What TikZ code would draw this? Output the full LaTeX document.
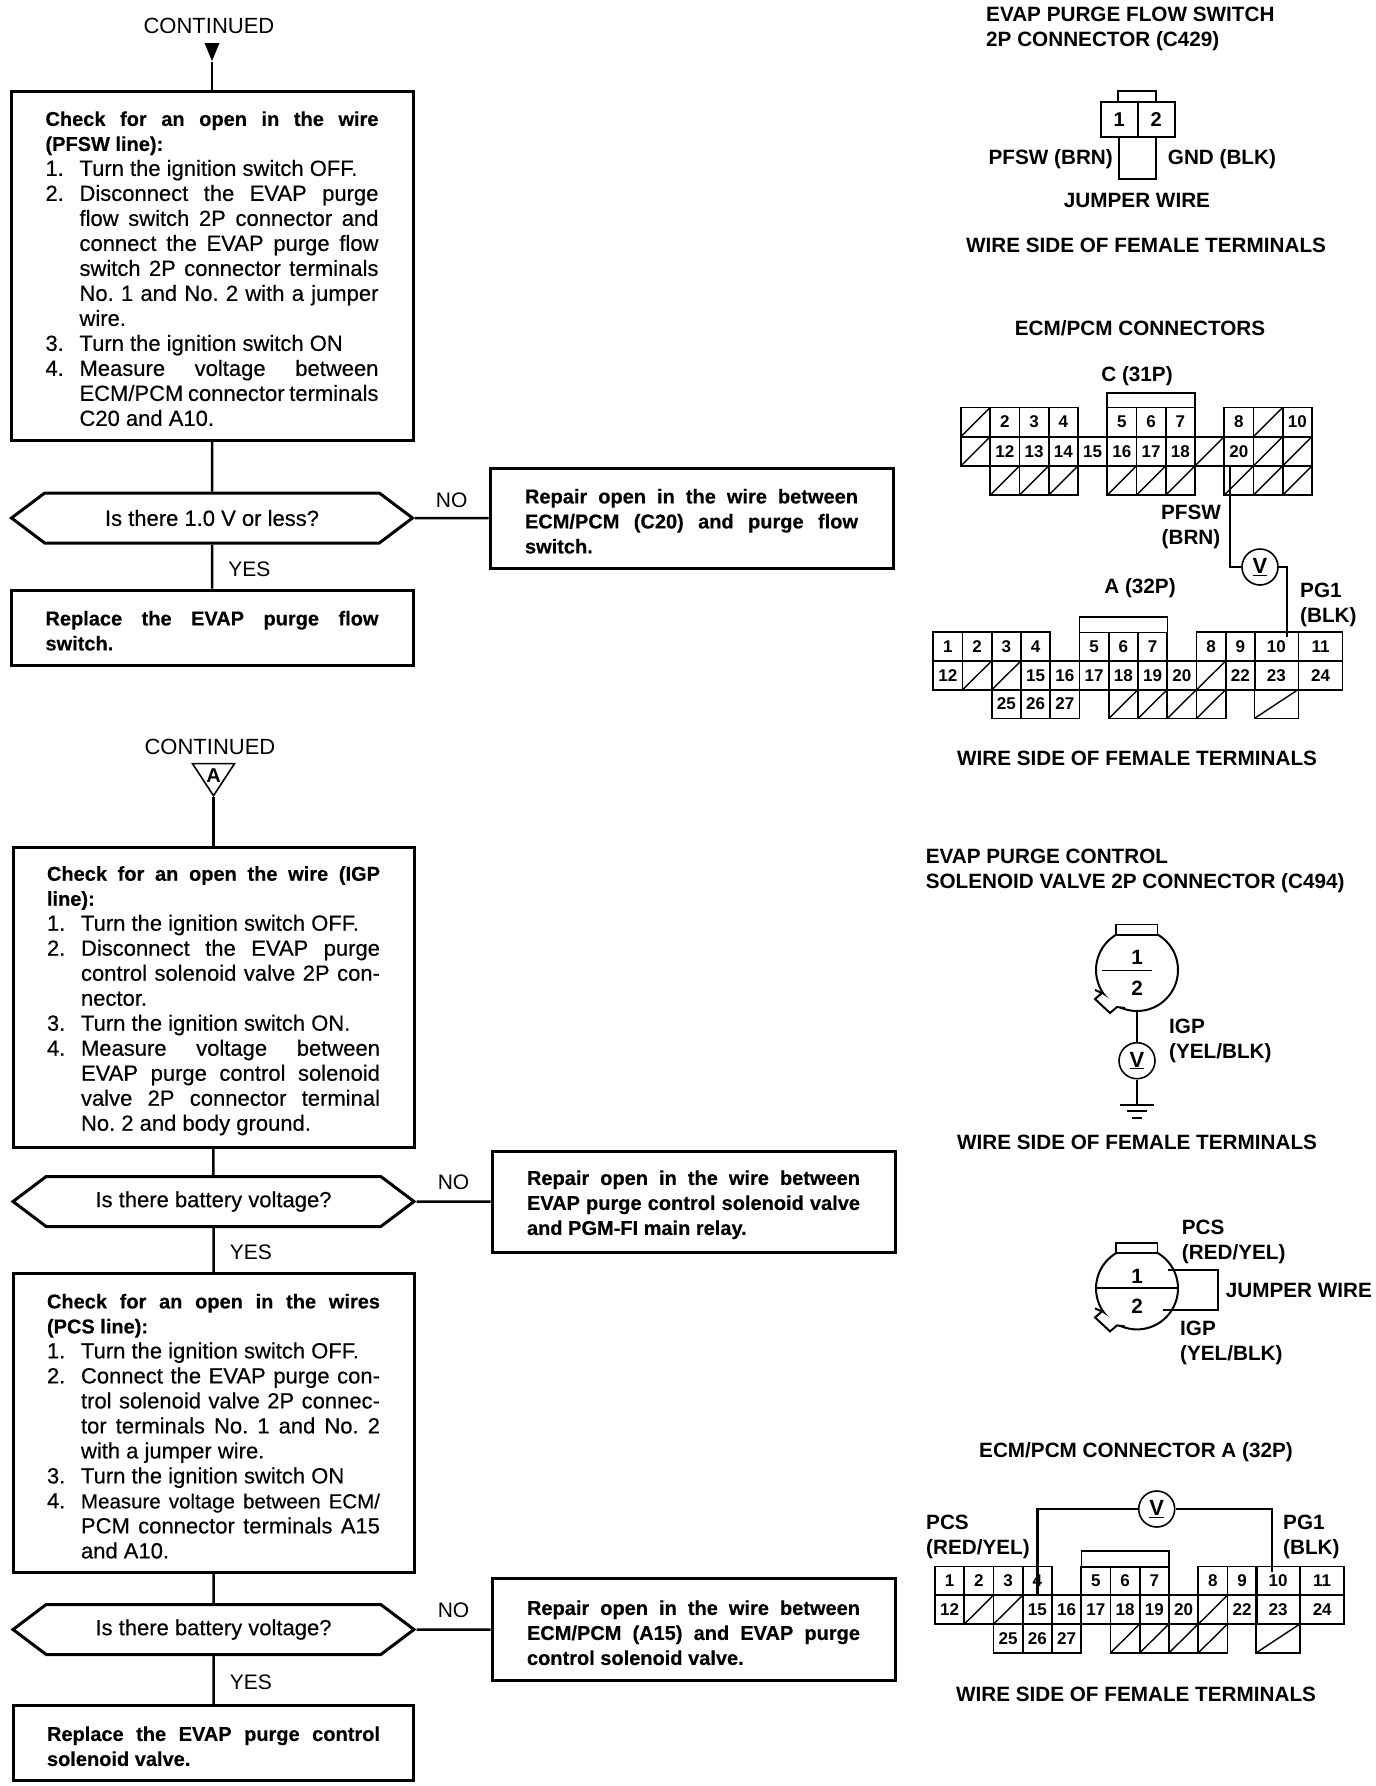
\documentclass[tikz,border=0pt]{standalone}
\usepackage{fontspec}
\setmainfont{Liberation Sans}
\newfontfamily\darkfam[FakeBold=0.4]{Liberation Sans}
\usetikzlibrary{positioning, shapes}
\newcommand{\stepfont}{\darkfam\fontsize{22}{25}\selectfont}
\newcommand{\headfont}{\bfseries\fontsize{20}{25}\selectfont}
\newcommand{\plainsp}{\spaceskip=0pt\xspaceskip=0pt\frenchspacing}
\newcommand{\headln}[1]{\makebox[333pt][s]{\plainsp\headfont #1}}
\newcommand{\headend}[1]{{\plainsp\headfont #1}}
\newcommand{\stepln}[2]{\makebox[34pt][l]{#1}\makebox[299pt][s]{\plainsp #2}}
\newcommand{\stepend}[2]{\makebox[34pt][l]{#1}{\plainsp #2}}
\tikzstyle{point}    = [coordinate]
\tikzstyle{plain}    = [inner sep=0pt, font=\fontsize{22}{25}\selectfont]
\tikzstyle{answer}   = [inner xsep=15pt, inner ysep=8pt, font=\fontsize{21}{25}\selectfont]
\tikzstyle{block}    = [draw, rectangle, line width=3pt, inner sep=0pt, text width=333pt, align=left, font=\stepfont, execute at begin node={\rule{0pt}{21pt}}]
\tikzstyle{highblock} = [block, execute at begin node={\rule{0pt}{17pt}}]
\tikzstyle{decision} = [draw, signal, signal to=west and east, signal pointer angle=74, line width=3pt, inner sep=0pt, minimum width=401pt, minimum height=50pt, font=\stepfont]
\tikzstyle{wire}     = [line width=2.5pt]
\tikzstyle{lbl}      = [inner sep=0pt, align=left, font=\bfseries\fontsize{20.7}{25}\selectfont]
\tikzstyle{cell}     = [draw, rectangle, line width=1.6pt, inner sep=0pt, minimum width=29.25pt, minimum height=29pt, font=\bfseries\fontsize{17}{18}\selectfont]
\tikzstyle{deadcell} = [cell, path picture={\draw [line width=1.4pt] (path picture bounding box.south west) -- (path picture bounding box.north east);}]
\tikzstyle{keybox}   = [draw, rectangle, fill=white, line width=1.6pt, inner sep=0pt]
\tikzstyle{meter}    = [draw, circle, fill=white, line width=1.6pt, inner sep=0pt, minimum size=36pt, font=\bfseries\fontsize{22}{25}\selectfont]
\tikzstyle{plug}     = [draw, circle, line width=2pt, inner sep=0pt, minimum size=82pt]
\newcommand{\notch}[1]{
	\draw [shift={(#1.center)}, line width=2pt, fill=white] (-42,20) -- (-35,23) -- (-42,29) -- (-27,43) -- (-20,37) -- (-12,38);
}
\newcommand{\connA}[1]{
	\foreach \t/\c/\r in {1/0/0,2/1/0,3/2/0,4/3/0,5/5/0,6/6/0,7/7/0,8/9/0,9/10/0,12/0/1,15/3/1,16/4/1,17/5/1,18/6/1,19/7/1,20/8/1,22/10/1,25/2/2,26/3/2,27/4/2}
		\node [cell] (#1\t) at ({947.9+\c*29.25},{646.6+\r*28.7}) {\t};
	\foreach \c/\r in {1/1,2/1,9/1,6/2,7/2,8/2,9/2}
		\node [deadcell] (#1x\c\r) at ({947.9+\c*29.25},{646.6+\r*28.7}) {};
	\foreach \t/\r in {10/0,23/1}
		\node [cell, minimum width=44pt] (#1\t) at ({1276.3},{646.6+\r*28.7}) {\t};
	\foreach \t/\r in {11/0,24/1}
		\node [cell, minimum width=44pt] (#1\t) at ({1320.5},{646.6+\r*28.7}) {\t};
	\node [deadcell, minimum width=44pt] (#1xw) at ({1276.3},{646.6+2*28.7}) {};
	\node [keybox, minimum width=87.75pt, minimum height=15.6pt] (#1key) at (1123.5,624.5) {};
}

\begin{document}
\begin{tikzpicture}[auto, x=1pt, y=-1pt, node distance=100pt]
	\useasboundingbox (0,0) rectangle (1376,1786);

	\node [plain] (cont1) at (209,26) {CONTINUED};
	\node [isosceles triangle, isosceles triangle apex angle=42, isosceles triangle stretches, shape border rotate=-90, fill, inner sep=0pt, minimum width=15pt, minimum height=18pt, below of=cont1, xshift=3pt, node distance=22pt] (tri1) {};
	\node [block, minimum width=402pt, minimum height=349pt, below of=tri1, node distance=217.5pt] (chk1) {
		\headln{Check for an open in the wire}\\
		\headend{(PFSW line):}\\
		\stepend{1.}{Turn the ignition switch OFF.}\\
		\stepln{2.}{Disconnect the EVAP purge}\\
		\stepln{}{flow switch 2P connector and}\\
		\stepln{}{connect the EVAP purge flow}\\
		\stepln{}{switch 2P connector terminals}\\
		\stepln{}{No. 1 and No. 2 with a jumper}\\
		\stepend{}{wire.}\\
		\stepend{3.}{Turn the ignition switch ON}\\
		\stepln{4.}{Measure voltage between}\\
		\stepln{}{ECM/PCM connector terminals}\\
		\stepend{}{C20 and A10.}};
	\node [decision, below of=chk1, node distance=252.5pt] (dec1) {Is there 1.0 V or less?};
	\node [block, minimum width=403pt, minimum height=100pt, right of=dec1, node distance=479.5pt] (rep1) {
		\headln{Repair open in the wire between}\\
		\headln{ECM/PCM (C20) and purge flow}\\
		\headend{switch.}};
	\node [block, minimum width=402pt, minimum height=75pt, below of=dec1, node distance=109.5pt] (fix1) {
		\headln{Replace the EVAP purge flow}\\
		\headend{switch.}};

	\node [plain] (cont2) at (210,747) {CONTINUED};
	\node [isosceles triangle, isosceles triangle apex angle=60, isosceles triangle stretches, shape border rotate=-90, draw, line width=1.6pt, inner sep=0pt, minimum width=42pt, minimum height=32pt, below of=cont2, xshift=3.5pt, node distance=28pt] (tri2) {};
	\node [plain, font=\bfseries\fontsize{20}{25}\selectfont, below of=tri2, node distance=1pt] (tria) {A};
	\node [block, minimum width=401pt, minimum height=300pt, below of=tri2, node distance=222.5pt] (chk2) {
		\headln{Check for an open the wire (IGP}\\
		\headend{line):}\\
		\stepend{1.}{Turn the ignition switch OFF.}\\
		\stepln{2.}{Disconnect the EVAP purge}\\
		\stepln{}{control solenoid valve 2P con-}\\
		\stepend{}{nector.}\\
		\stepend{3.}{Turn the ignition switch ON.}\\
		\stepln{4.}{Measure voltage between}\\
		\stepln{}{EVAP purge control solenoid}\\
		\stepln{}{valve 2P connector terminal}\\
		\stepend{}{No. 2 and body ground.}};
	\node [decision, below of=chk2, node distance=204pt] (dec2) {Is there battery voltage?};
	\node [block, minimum width=403pt, minimum height=101pt, right of=dec2, node distance=480pt] (rep2) {
		\headln{Repair open in the wire between}\\
		\headln{EVAP purge control solenoid valve}\\
		\headend{and PGM-FI main relay.}};
	\node [block, minimum width=401pt, minimum height=299pt, below of=dec2, node distance=221.5pt] (chk3) {
		\headln{Check for an open in the wires}\\
		\headend{(PCS line):}\\
		\stepend{1.}{Turn the ignition switch OFF.}\\
		\stepln{2.}{Connect the EVAP purge con-}\\
		\stepln{}{trol solenoid valve 2P connec-}\\
		\stepln{}{tor terminals No. 1 and No. 2}\\
		\stepend{}{with a jumper wire.}\\
		\stepend{3.}{Turn the ignition switch ON}\\
		\stepln{4.}{\fontsize{20.5}{25}\selectfont Measure voltage between ECM/}\\
		\stepln{}{PCM connector terminals A15}\\
		\stepend{}{and A10.}};
	\node [decision, below of=chk3, node distance=206.5pt] (dec3) {Is there battery voltage?};
	\node [highblock, minimum width=403pt, minimum height=102pt, right of=dec3, node distance=480pt] (rep3) {
		\headln{Repair open in the wire between}\\
		\headln{ECM/PCM (A15) and EVAP purge}\\
		\headend{control solenoid valve.}};
	\node [highblock, minimum width=400pt, minimum height=75pt, below of=dec3, node distance=113.5pt] (fix2) {
		\headln{Replace the EVAP purge control}\\
		\headend{solenoid valve.}};

	\draw [wire] (tri1.apex) -- (chk1);
	\draw [wire] (chk1) -- (dec1);
	\draw [wire] (dec1) -- node [answer, yshift=1pt] {NO} (rep1);
	\draw [wire] (dec1) -- node [answer, yshift=-3pt] {YES} (fix1);
	\draw [wire] (tri2.apex) -- (chk2);
	\draw [wire] (chk2) -- (dec2);
	\draw [wire] (dec2) -- node [answer, yshift=3pt] {NO} (rep2);
	\draw [wire] (dec2) -- node [answer, yshift=-2pt] {YES} (chk3);
	\draw [wire] (chk3) -- (dec3);
	\draw [wire] (dec3) -- node [answer, yshift=3pt] {NO} (rep3);
	\draw [wire] (dec3) -- node [answer, yshift=-2pt] {YES} (fix2);

	\node [lbl, anchor=west] (ttl1) at (986,29) {EVAP PURGE FLOW SWITCH\\2P CONNECTOR (C429)};
	\node [keybox, minimum width=38.3pt, minimum height=10.6pt] (swkey) at (1136.9,96.4) {};
	\node [cell, minimum width=37pt, minimum height=35pt, line width=2pt, font=\bfseries\fontsize{20}{25}\selectfont] (sw1) at (1119.2,119.2) {1};
	\node [cell, minimum width=37pt, minimum height=35pt, line width=2pt, font=\bfseries\fontsize{20}{25}\selectfont] (sw2) at (1156.2,119.2) {2};
	\node [lbl, anchor=east] (pfsw1) at (1113,159) {PFSW (BRN)};
	\node [lbl, anchor=west] (gnd1) at (1167.7,159) {GND (BLK)};
	\node [lbl] (jmp1) at (1137,200) {JUMPER WIRE};
	\node [lbl] (side1) at (1146,245) {WIRE SIDE OF FEMALE TERMINALS};
	\draw [line width=2pt] (sw1.south) -- ++(0,41) -| (sw2.south);

	\node [lbl] (ttl2) at (1140,328) {ECM/PCM CONNECTORS};
	\node [lbl] (ttlc) at (1137,376) {C (31P)};
	\foreach \t/\c/\r in {2/1/0,3/2/0,4/3/0,5/5/0,6/6/0,7/7/0,8/9/0,10/11/0,12/1/1,13/2/1,14/3/1,15/4/1,16/5/1,17/6/1,18/7/1,20/9/1}
		\node [cell] (c\t) at ({975.6+\c*29.25},{422+\r*29.25}) {\t};
	\foreach \c/\r in {0/0,10/0,0/1,8/1,10/1,11/1,1/2,2/2,3/2,5/2,6/2,7/2,9/2,10/2,11/2}
		\node [deadcell] (cx\c\r) at ({975.6+\c*29.25},{422+\r*29.25}) {};
	\node [keybox, minimum width=87.75pt, minimum height=14.6pt] (ckey) at (1151,400) {};
	\node [lbl, align=center] (pfsw2) at (1191,526.5) {PFSW\\(BRN)};
	\node [meter] (vm1) at (1260,567) {\underline{V}};
	\node [lbl] (pg1) at (1300,605) [anchor=west] {PG1\\(BLK)};
	\node [lbl] (ttla) at (1140,588) {A (32P)};
	\connA{a}
	\node [lbl] (side2) at (1137,758) {WIRE SIDE OF FEMALE TERMINALS};
	\draw [wire] ([xshift=-9pt]c20.south) |- (vm1);
	\draw [wire] (vm1) -| ([xshift=10.7pt,yshift=-6pt]a10.north);

	\node [lbl, anchor=west] (ttl3) at (925.6,871) {EVAP PURGE CONTROL\\SOLENOID VALVE 2P CONNECTOR (C494)};
	\node [plug] (rnd1) at (1137,970) {};
	\notch{rnd1}
	\node [keybox, minimum width=41.6pt, minimum height=10.4pt] (rkey1) at (1136.5,929.5) {};
	\draw [line width=0.8pt] ([xshift=7pt]rnd1.west) -- ([xshift=-27pt]rnd1.east);
	\node [lbl, above of=rnd1, node distance=13pt] (rn1) {1};
	\node [lbl, below of=rnd1, node distance=18pt] (rn2) {2};
	\node [lbl, anchor=west] (igp1) at (1169,1040.5) {IGP\\(YEL/BLK)};
	\node [meter] (vm2) at (1137,1060.7) {\underline{V}};
	\node [point] (gnd) at (1137,1105) {};
	\draw [line width=2pt] (rnd1.south) -- (vm2);
	\draw [line width=2pt] (vm2) -- (gnd);
	\draw [line width=1.6pt] ([xshift=-17pt]gnd) -- ([xshift=17pt]gnd);
	\draw [line width=1.6pt] ([xshift=-10pt,yshift=-6pt]gnd) -- ([xshift=10pt,yshift=-6pt]gnd);
	\draw [line width=1.6pt] ([xshift=-5pt,yshift=-13pt]gnd) -- ([xshift=5pt,yshift=-13pt]gnd);
	\node [lbl] (side3) at (1137,1142) {WIRE SIDE OF FEMALE TERMINALS};

	\node [plug] (rnd2) at (1137,1288.4) {};
	\notch{rnd2}
	\node [keybox, minimum width=41.6pt, minimum height=10.4pt] (rkey2) at (1136.5,1247.9) {};
	\draw [line width=2pt] (rnd2.west) -- (rnd2.east);
	\node [lbl, above of=rnd2, node distance=12pt] (rn3) {1};
	\node [lbl, below of=rnd2, node distance=18pt] (rn4) {2};
	\node [lbl, anchor=west] (pcs1) at (1181.7,1241.7) {PCS\\(RED/YEL)};
	\node [lbl, anchor=west] (jmp2) at (1225.7,1290) {JUMPER WIRE};
	\node [lbl, anchor=west] (igp2) at (1180,1342.5) {IGP\\(YEL/BLK)};
	\draw [line width=2pt] ([xshift=31pt,yshift=18pt]rnd2.center) -| ([xshift=81pt,yshift=-22pt]rnd2.center) -- ([xshift=26pt,yshift=-22pt]rnd2.center);

	\node [lbl] (ttl4) at (1136,1452) {ECM/PCM CONNECTOR A (32P)};
	\begin{scope}[shift={(1.7,934.4)}]
		\connA{b}
	\end{scope}
	\node [meter] (vm3) at (1156.7,1509) {\underline{V}};
	\node [lbl, anchor=west] (pcs2) at (926,1537) {PCS\\(RED/YEL)};
	\node [lbl, anchor=west] (pg2) at (1283,1537) {PG1\\(BLK)};
	\node [lbl] (side4) at (1136,1694) {WIRE SIDE OF FEMALE TERMINALS};
	\draw [wire] (vm3) -| (b15.north);
	\draw [wire] (vm3) -| ([xshift=-6pt,yshift=-6pt]b10.north);
\end{tikzpicture}
\end{document}
